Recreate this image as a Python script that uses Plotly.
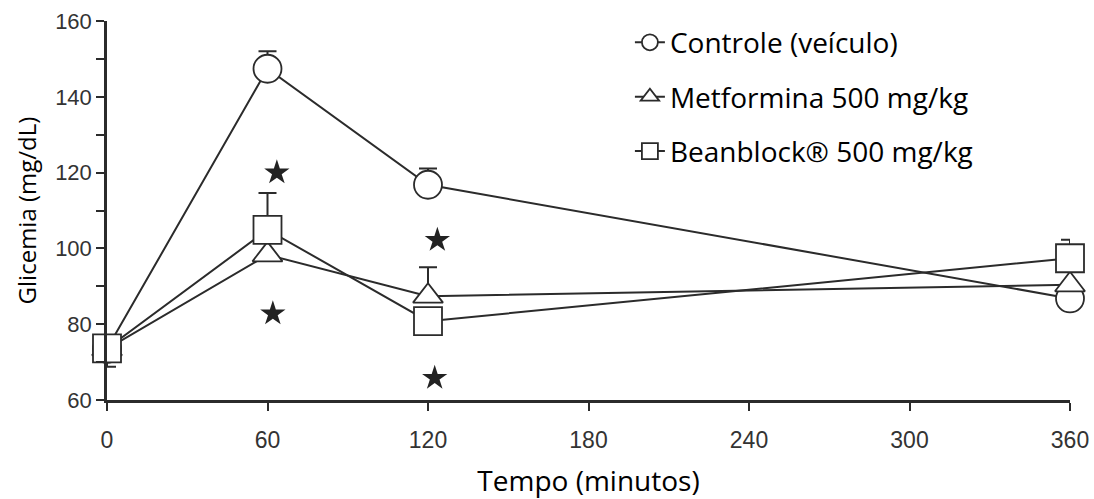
import plotly.graph_objects as go

# ---- data ----
times = [0, 60, 120, 360]

controle = [73.5, 147.4, 116.8, 86.8]
controle_err_plus = [0, 4.6, 4.3, 0]

metformina = [73.5, 98.3, 87.4, 90.4]
metformina_err_plus = [0, 0, 7.6, 0]

beanblock = [73.6, 104.9, 80.8, 97.4]
beanblock_err_plus = [0, 9.7, 0, 4.9]
beanblock_err_minus = [4.8, 0, 0, 0]

star_x = [63.5, 62.0, 123.5, 122.5]
star_y = [120.0, 82.8, 102.2, 65.8]

x_ticks = [0, 60, 120, 180, 240, 300, 360]
y_ticks = [60, 80, 100, 120, 140, 160]

names = ["Controle (veículo)", "Metformina 500 mg/kg", "Beanblock® 500 mg/kg"]

INK = "#2b2b2b"

fig = go.Figure()

def add_series(y, name, symbol, size, plus, minus, group):
    fig.add_trace(go.Scatter(
        x=times, y=y, name=name, mode="lines+markers",
        line=dict(color=INK, width=2),
        marker=dict(symbol=symbol, size=size, color="white",
                    line=dict(color=INK, width=1.8)),
        error_y=dict(type="data", symmetric=False, array=plus,
                     arrayminus=minus, color=INK, thickness=2, width=9),
        cliponaxis=False, legendgroup=group,
    ))

add_series(controle, names[0], "circle", 28, controle_err_plus, [0, 0, 0, 0], "a")
add_series(metformina, names[1], "triangle-up", 26, metformina_err_plus, [0, 0, 0, 0], "b")
add_series(beanblock, names[2], "square", 28, beanblock_err_plus, beanblock_err_minus, "c")

fig.add_trace(go.Scatter(
    x=star_x, y=star_y, mode="markers", showlegend=False,
    marker=dict(symbol="star", size=19, color="#222222"),
    cliponaxis=False,
))

fig.update_layout(
    width=1094, height=499,
    margin=dict(l=107, r=24, t=21, b=99, autoexpand=False),
    paper_bgcolor="white", plot_bgcolor="white",
    showlegend=True,
    legend=dict(
        x=0.543, y=1.009, xanchor="left", yanchor="top",
        font=dict(family="Open Sans", size=28, color="black"),
        bgcolor="rgba(0,0,0,0)", tracegroupgap=15,
        itemsizing="trace",
    ),
    xaxis=dict(
        range=[0, 360], tickvals=x_ticks,
        showgrid=False, zeroline=False,
        showline=True, linecolor=INK, linewidth=2.5,
        ticks="outside", ticklen=8, tickwidth=2, tickcolor=INK,
        ticklabelstandoff=10,
        tickfont=dict(family="Liberation Sans", size=23, color="#333333"),
        title=dict(text="Tempo (minutos)", standoff=24,
                   font=dict(family="Open Sans", size=28, color="black")),
    ),
    yaxis=dict(
        range=[60, 160], tickvals=y_ticks,
        showgrid=False, zeroline=False,
        showline=True, linecolor=INK, linewidth=2.5,
        ticks="outside", ticklen=8, tickwidth=2, tickcolor=INK,
        minor=dict(dtick=10, ticks="outside", ticklen=8, tickwidth=2, tickcolor=INK),
        tickfont=dict(family="Liberation Sans", size=22, color="#333333"),
        title=dict(text="Glicemia (mg/dL)", standoff=12,
                   font=dict(family="Open Sans", size=24, color="black")),
    ),
)

fig.write_html(
    "out.html",
    config={"displayModeBar": False},
    post_script="document.body.style.margin='0';document.body.style.overflow='hidden';",
)
